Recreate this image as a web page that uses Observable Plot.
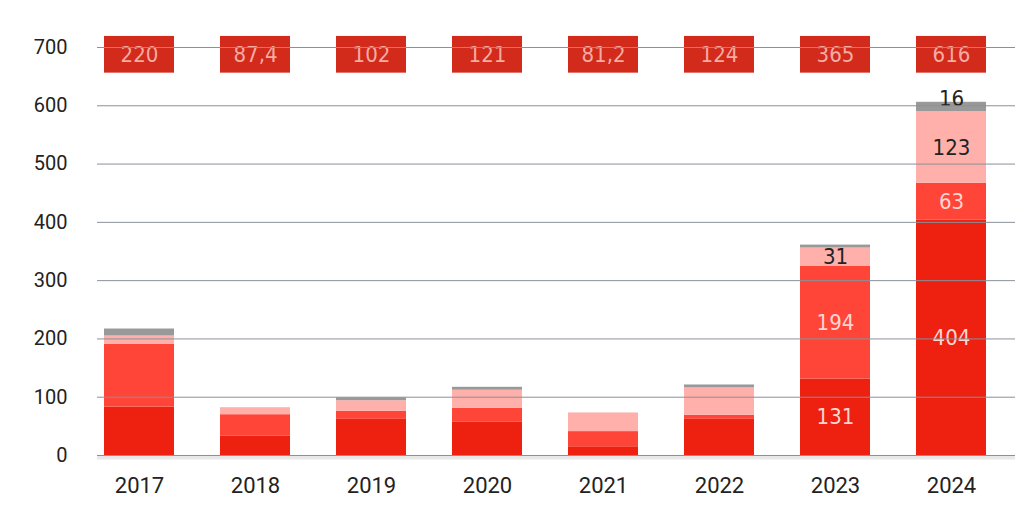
<!DOCTYPE html>
<html><head><meta charset="utf-8">
<script src="https://cdn.jsdelivr.net/npm/d3@7"></script>
<script src="https://cdn.jsdelivr.net/npm/@observablehq/plot@0.6"></script>
<style>body{margin:0;background:#fff}</style>
</head><body><div id="chart"></div>
<script>
const years = ["2017","2018","2019","2020","2021","2022","2023","2024"];
const totalLabels = ["220","87,4","102","121","81,2","124","365","616"];
const seriesNames = ["s1","s2","s3","s4"];
const s1 = [83, 33, 62, 57, 15, 62, 131, 404];
const s2 = [108, 37, 14, 24, 26, 7, 194, 63];
const s3 = [14, 12, 18, 31, 32, 47, 31, 123];
const s4 = [12, 0, 5, 5, 0, 5, 5, 16];
const labelledCells = ["2023:s1","2023:s2","2023:s3","2024:s1","2024:s2","2024:s3","2024:s4"];
const colors = ["#ee2010","#ff4538","#ffb0ab","#999999"];
const yTicks = [0,100,200,300,400,500,600,700];

const values = [s1, s2, s3, s4];
const rows = years.flatMap((year, i) => seriesNames.map((series, k) => ({year, series, value: values[k][i]})));
const totals = years.map((year, i) => ({year, label: totalLabels[i]}));
const narrow = "'Liberation Sans Narrow', 'DejaVu Sans Condensed', sans-serif";
const showIf = (names) => d => (labelledCells.includes(d.year + ":" + d.series) && names.includes(d.series)) ? String(d.value) : null;

const chart = Plot.plot({
  width: 1034, height: 526,
  marginLeft: 97, marginRight: 19, marginTop: 47, marginBottom: 71,
  style: {fontFamily: "Roboto, sans-serif", fontSize: "20px", color: "#222", background: "#fff"},
  x: {domain: years, range: [103, 986], paddingInner: 0.4, paddingOuter: 0, label: null},
  y: {domain: [0, 700], label: null},
  color: {domain: seriesNames, range: colors},
  marks: [
    Plot.ruleY([0], {stroke: "#e8e8e8", strokeWidth: 4, dy: 2}),
    Plot.barY(rows, {x: "year", y: "value", fill: "series"}),
    Plot.barY(totals, {x: "year", y1: 656, y2: 719, fill: "#d22a1b"}),
    Plot.text(totals, {x: "year", y: 687, text: "label", fill: "#f6aca3", fontSize: 22, fontFamily: narrow}),
    Plot.text(rows, Plot.stackY({x: "year", y: "value", text: showIf(["s1","s2"]), fill: "#ffd6d2", fontSize: 22, fontFamily: narrow})),
    Plot.text(rows, Plot.stackY({x: "year", y: "value", text: showIf(["s3"]), fill: "#222", fontSize: 22, fontFamily: narrow})),
    Plot.text(rows, Plot.stackY({x: "year", y: "value", text: showIf(["s4"]), fill: "#222", fontSize: 22, fontFamily: narrow, dy: -8})),
    Plot.ruleY(yTicks, {stroke: "#8b9099", strokeWidth: 1}),
    Plot.axisY({ticks: yTicks, tickSize: 0, tickPadding: 30, fontSize: 20, label: null}),
    Plot.axisX({tickSize: 0, tickPadding: 22, fontSize: 22, label: null})
  ]
});
document.getElementById("chart").append(chart);
</script>
</body></html>
